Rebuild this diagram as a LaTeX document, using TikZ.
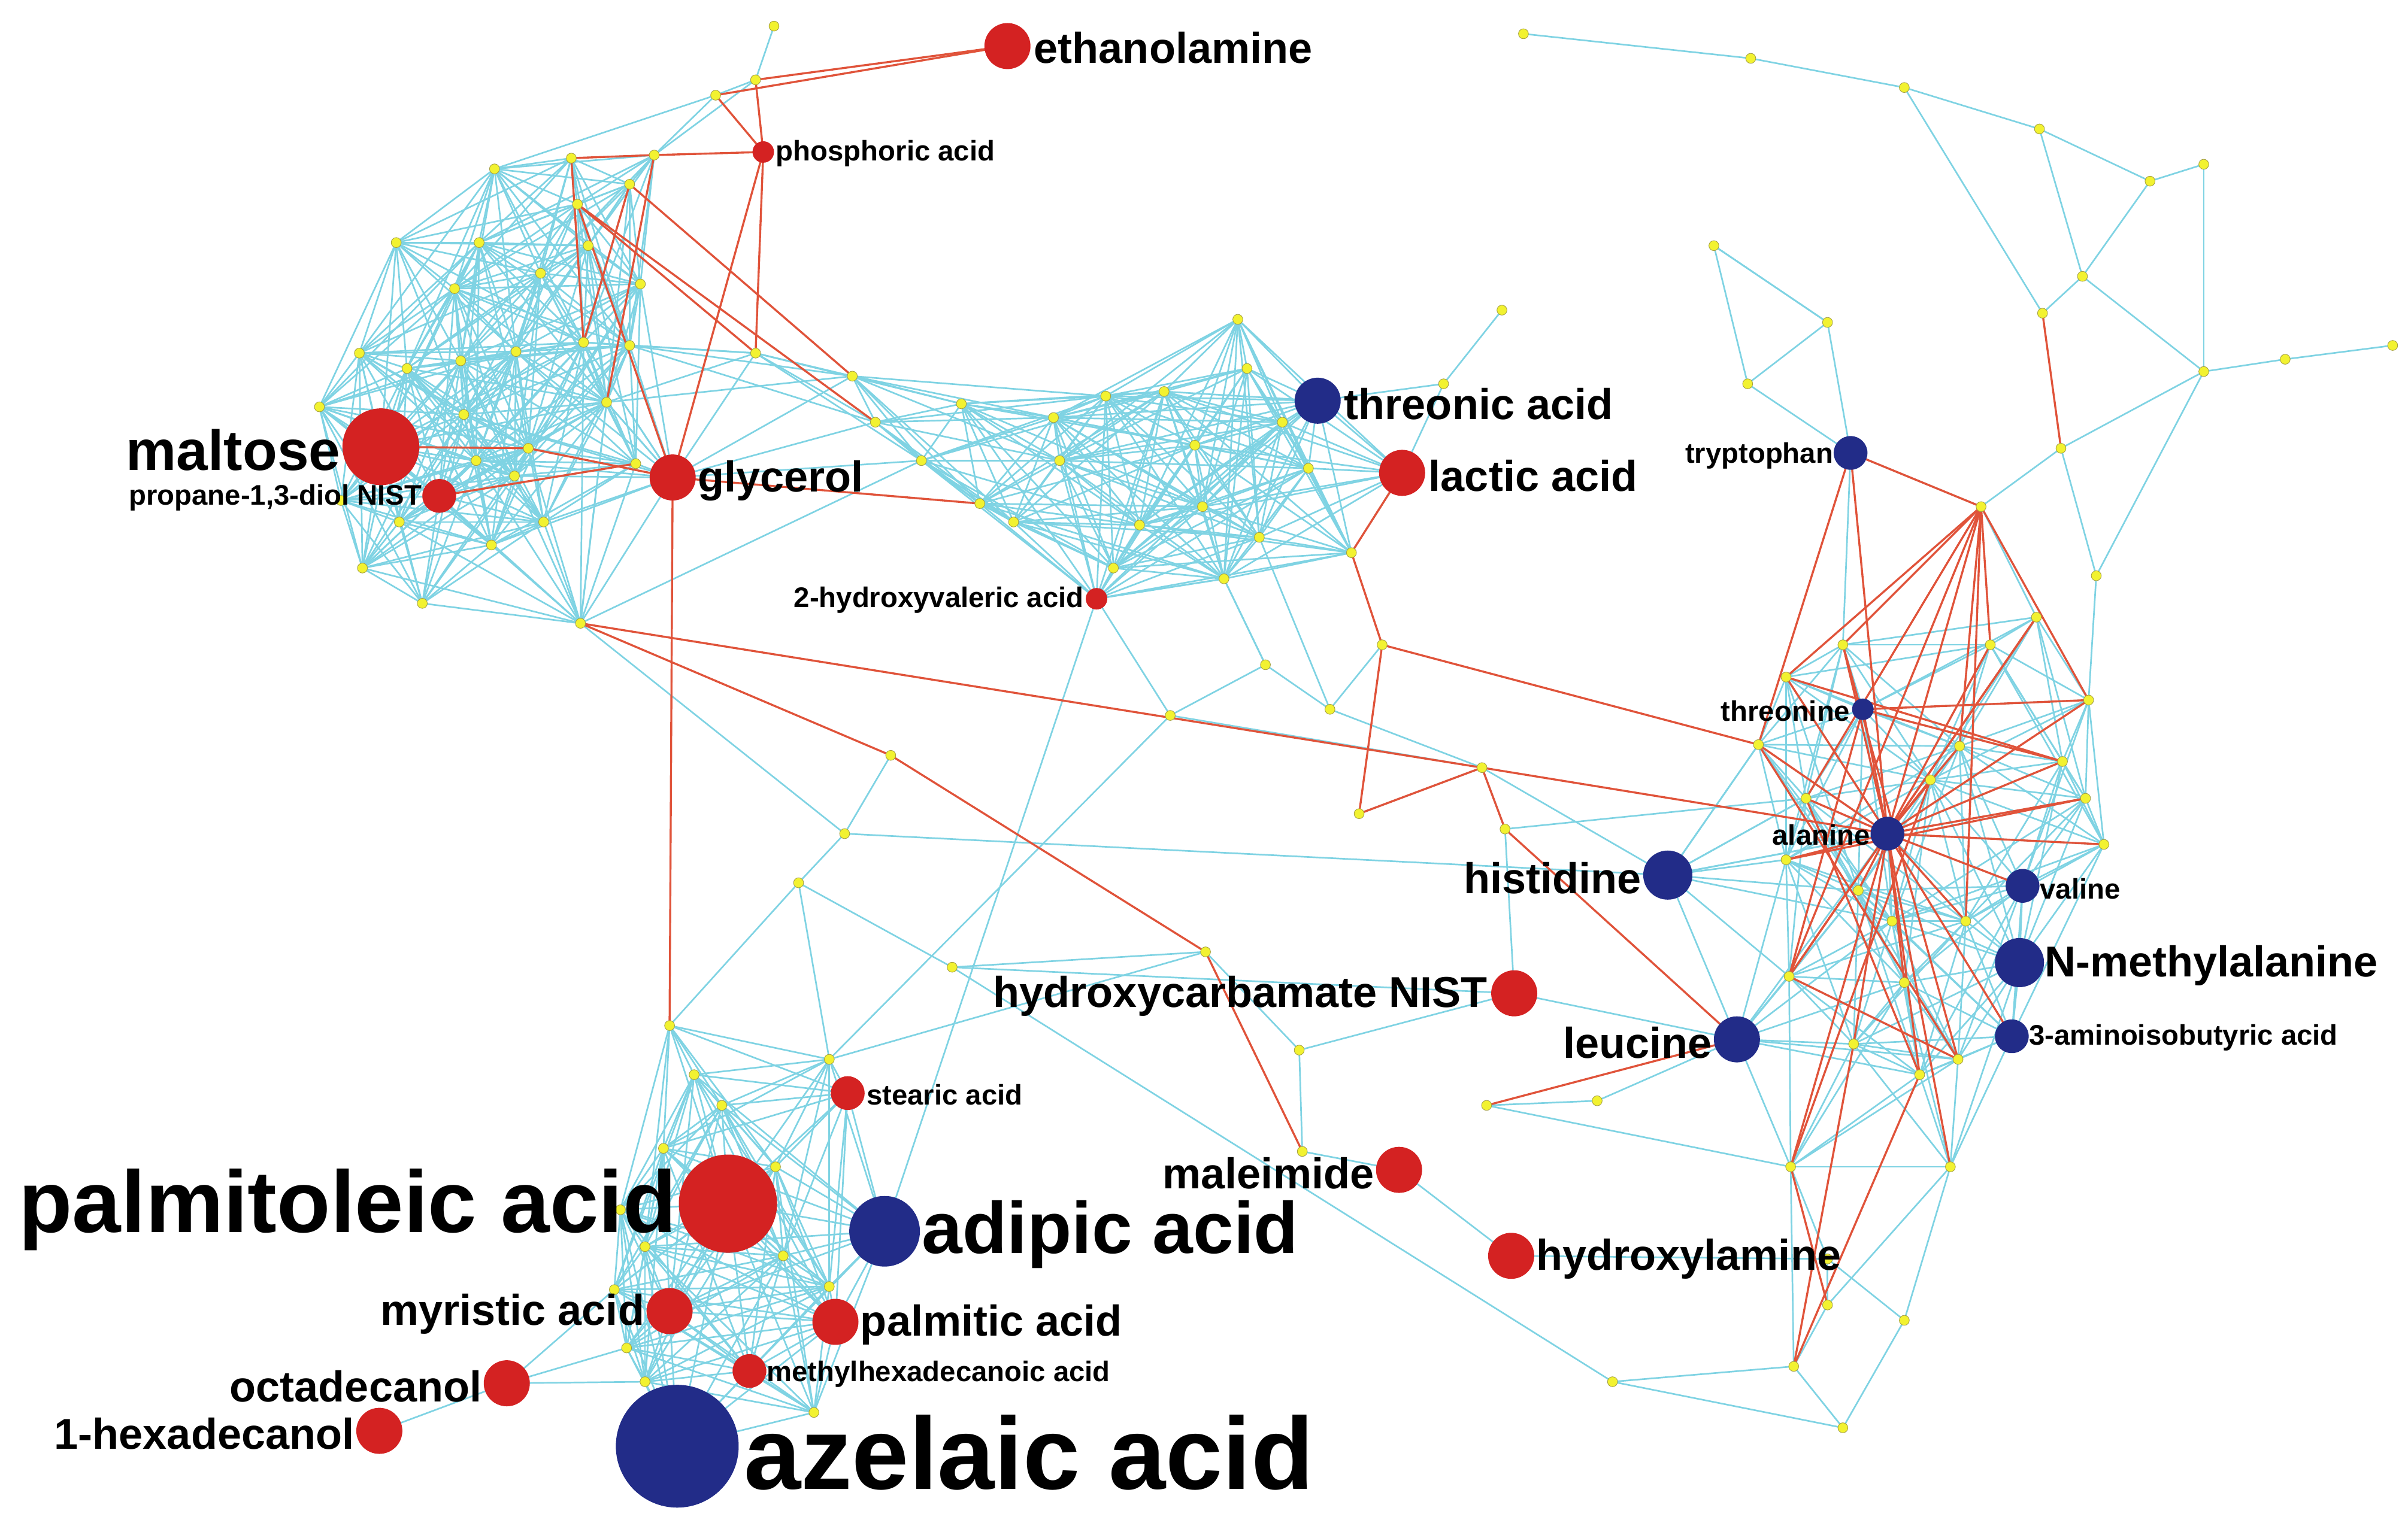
\documentclass[tikz,border=0pt]{standalone}
\usepackage{fontspec}
\setmainfont{Liberation Sans}
\definecolor{cyanE}{HTML}{7FD3E3}
\definecolor{redE}{HTML}{E0533A}
\definecolor{redN}{HTML}{D42222}
\definecolor{bluN}{HTML}{222C88}
\definecolor{yelN}{HTML}{F2F230}
\tikzset{
 cy/.style={cyanE,line width=0.6pt},
 rdl/.style={redE,line width=0.75pt},
 yd/.style={circle,fill=yelN,draw=yellow!60!black,line width=0.2pt,inner sep=0,minimum size=0.13cm},
 rd/.style={circle,fill=redN,inner sep=0,minimum size=#1},
 bd/.style={circle,fill=bluN,inner sep=0,minimum size=#1},
 lS/.style={font=\bfseries\fontsize{10.5}{12}\selectfont,inner sep=0},
 lM/.style={font=\bfseries\fontsize{16}{18}\selectfont,inner sep=0},
}
\def\ylist{u1/504/17,u2/492/52,u3/466/62,
a1/258/158,a2/312/158,a3/376/133,a4/410/120,a5/372/103,a6/322/110,a7/426/101,a8/383/160,a9/352/178,a10/417/185,a11/296/188,a12/234/230,a13/265/240,a14/300/235,a15/336/229,a16/380/223,a17/410/225,a18/208/265,a19/302/270,a20/344/292,a21/395/262,a22/414/302,a23/310/300,a24/222/326,a25/260/340,a26/275/393,a27/236/370,a28/320/355,a29/354/340,a30/378/406,a31/335/310,
b1/492/230,b2/555/245,b3/570/275,b4/626/263,b5/638/328,b6/686/272,b7/690/300,b8/720/258,b9/758/255,b10/778/290,b11/806/208,b12/812/240,b13/835/275,b14/783/330,b15/797/377,b16/742/342,b17/820/350,b18/852/305,b19/880/360,b20/725/370,b21/600/300,b22/660/340,
c1/436/668,c2/452/700,c3/540/690,c4/432/748,c5/404/788,c6/420/812,c7/408/878,c8/420/900,c9/530/920,c10/540/838,c11/510/818,c12/470/720,c13/505/760,c14/400/840,
d1/1163/441,d2/1145/485,d3/1176/520,d4/1163/560,d5/1210/580,d6/1232/600,d7/1257/508,d8/1276/486,d9/1343/496,d10/1358/520,d11/1370/550,d12/1165/636,d13/1207/680,d14/1250/700,d15/1275/690,d16/1166/760,d17/1270/760,d18/1296/420,d19/1326/402,d20/1360/456,d21/1240/640,d22/1280/600,d23/1200/420,
e1/1190/820,e2/1190/850,e3/1168/890,e4/1200/930,e5/1240/860,e6/1050/900,e7/1040/717,e8/968/720,
t1/992/22,t2/1140/38,t3/1240/57,t4/1328/84,t5/1400/118,t6/1435/107,t7/1356/180,t8/1330/204,t9/1435/242,t10/1488/234,t11/1558/225,t12/1342/292,t13/1190/210,t14/1116/160,t15/1138/250,t16/1290/330,t17/1365/375,t18/978/202,t19/940/250,
m1/824/433,m2/762/466,m3/866/462,m4/900/420,m5/965/500,m6/980/540,m7/885/530,m8/620/630,m9/550/543,m10/580/492,m11/520/575,m12/785/620,m13/846/684,m14/848/750}
\def\clist{eth/656/30,phos/497/99,mal/248/291,prop/286/323,gly/438/311,thr/858/261,lac/913/308,hyv/714/390,tryp/1205/295,thn/1213/462,ala/1229/543,his/1086/570,val/1317/577,nma/1315/627,aib/1310/675,leu/1131/677,hyc/986/647,ste/552/712,pal/474/784,adi/576/802,male/911/762,hyl/984/818,myr/436/854,plm/544/861,mhd/488/893,oct/330/901,hex/247/932,aze/441/942}
\newcommand\meshcluster[2]{%
 \foreach[count=\i] \a in {#1}{\foreach[count=\j] \b in {#1}{%
  \ifnum\i<\j
   \pgfmathparse{veclen(\csname X@\a\endcsname-\csname X@\b\endcsname,\csname Y@\a\endcsname-\csname Y@\b\endcsname)<#2}%
   \ifdim\pgfmathresult pt>0.5pt \draw[cy] (\a)--(\b);\fi
  \fi}}}
\begin{document}
\begin{tikzpicture}[x=0.02cm,y=-0.02cm]
\useasboundingbox (0,0) rectangle (1568,992);
\foreach \n/\x/\y in \ylist {\coordinate (\n) at (\x,\y); \expandafter\xdef\csname X@\n\endcsname{\x}\expandafter\xdef\csname Y@\n\endcsname{\y}}
\foreach \n/\x/\y in \clist {\coordinate (\n) at (\x,\y); \expandafter\xdef\csname X@\n\endcsname{\x}\expandafter\xdef\csname Y@\n\endcsname{\y}}
% dense clusters
\meshcluster{a1,a2,a3,a4,a5,a6,a7,a8,a9,a10,a11,a12,a13,a14,a15,a16,a17,a18,a19,a20,a21,a22,a23,a24,a25,a26,a27,a28,a29,a30,a31,mal,prop,gly}{150}
\meshcluster{gly,a17,a21,a16,b1,b2,b3,b4,b5,b6,b7,b8,b9,b10,b11,b12,b13,b14,b15,b16,b17,b18,b19,b20,b21,b22,thr,lac,hyv}{175}
\meshcluster{c1,c2,c3,c4,c5,c6,c7,c8,c9,c10,c11,c12,c13,c14,pal,adi,ste,myr,plm,mhd,aze}{165}
\meshcluster{d1,d2,d3,d4,d5,d6,d7,d8,d9,d10,d11,d12,d13,d14,d15,d16,d17,d18,d19,d20,d21,d22,d23,thn,ala,val,nma,aib,leu,his}{150}
% sparse cyan edges
\foreach \p/\q in {u1/u2,u2/u3,u3/a7,u2/a7,a6/u3,t18/t19,t19/thr,t19/lac,hyv/adi,hyv/b15,m10/m9,m9/m11,m11/c3,a30/m9,m9/his,m11/m8,m8/hyc,m12/m13,m13/m14,m13/hyc,m14/male,m2/m1,m1/m3,m3/m4,m2/m5,m5/his,m7/m5,hyv/m2,b15/m1,b17/m3,m5/m6,m6/d3,m2/c3,c3/m12,male/hyl,hyl/e1,e8/e7,e7/leu,e8/d16,e6/e3,m8/e6,e6/e4,e4/e3,e3/e2,e2/e1,e1/e5,e5/d17,e1/d16,e3/d16,e4/e5,e2/d17,
 t1/t2,t2/t3,t3/t4,t4/t5,t5/t6,t5/t7,t6/t9,t7/t9,t7/t8,t9/t10,t10/t11,t12/t17,t4/t7,t3/t8,t13/t14,t14/t15,t13/t15,t13/tryp,t15/tryp,t16/tryp,t17/d20,t16/d19,t9/t17,tryp/d23,t12/t16,t9/t12,t14/t13,
 his/d3,his/d2,his/ala,leu/ala,hyc/m6,hyc/leu,m3/m5,m1/b15,c1/m11,b21/a30,a30/a21,a30/a16,m12/m8,hex/oct,oct/c7,oct/c8,oct/c14}{\draw[cy] (\p)--(\q);}
% red edges
\foreach \p/\q in {eth/u2,eth/u3,u2/phos,u3/phos,phos/a7,phos/b1,phos/gly,a7/a5,a7/a21,a5/a16,a4/b2,a3/b1,gly/c1,gly/b5,gly/a20,prop/a22,mal/a20,gly/a3,a4/a16,a3/b3,
 a30/m10,m10/m12,m12/m14,a30/m5,lac/b19,b19/m4,m4/m7,m7/m5,m4/d2,m5/ala,m5/m6,m6/leu,leu/e8,e3/d13,e3/d14,e2/d16,t8/t12,tryp/t16,tryp/ala,tryp/d2,
 t16/d1,t16/d3,t16/d8,t16/d20,t16/ala,t16/d12,t16/d22,t16/d18,t16/d23,
 ala/d1,ala/d2,ala/d3,ala/d4,ala/d5,ala/d7,ala/d8,ala/d9,ala/d10,ala/d11,ala/d12,ala/d13,ala/d14,ala/d16,ala/d17,ala/d18,ala/d19,ala/d20,ala/d21,ala/d22,ala/d23,ala/thn,ala/val,ala/aib,
 thn/d9,thn/d20,thn/d12,d1/d9,d23/d15,d2/d15,d3/d14,d4/d10,d12/d19,d16/d7,d12/d15}{\draw[rdl] (\p)--(\q);}
% yellow nodes
\foreach \n/\x/\y in \ylist {\node[yd] (\n-n) at (\n) {};}
% coloured nodes
\node[rd=0.6cm] (eth-n) at (eth) {};
\node[rd=0.28cm] (phos-n) at (phos) {};
\node[rd=1cm] (mal-n) at (mal) {};
\node[rd=0.44cm] (prop-n) at (prop) {};
\node[rd=0.6cm] (gly-n) at (gly) {};
\node[bd=0.6cm] (thr-n) at (thr) {};
\node[rd=0.6cm] (lac-n) at (lac) {};
\node[rd=0.28cm] (hyv-n) at (hyv) {};
\node[bd=0.44cm] (tryp-n) at (tryp) {};
\node[bd=0.28cm] (thn-n) at (thn) {};
\node[bd=0.44cm] (ala-n) at (ala) {};
\node[bd=0.64cm] (his-n) at (his) {};
\node[bd=0.44cm] (val-n) at (val) {};
\node[bd=0.64cm] (nma-n) at (nma) {};
\node[bd=0.44cm] (aib-n) at (aib) {};
\node[bd=0.6cm] (leu-n) at (leu) {};
\node[rd=0.6cm] (hyc-n) at (hyc) {};
\node[rd=0.44cm] (ste-n) at (ste) {};
\node[rd=1.28cm] (pal-n) at (pal) {};
\node[bd=0.92cm] (adi-n) at (adi) {};
\node[rd=0.6cm] (male-n) at (male) {};
\node[rd=0.6cm] (hyl-n) at (hyl) {};
\node[rd=0.6cm] (myr-n) at (myr) {};
\node[rd=0.6cm] (plm-n) at (plm) {};
\node[rd=0.44cm] (mhd-n) at (mhd) {};
\node[rd=0.6cm] (oct-n) at (oct) {};
\node[rd=0.6cm] (hex-n) at (hex) {};
\node[bd=1.6cm] (aze-n) at (aze) {};
% labels
\node[lM,anchor=west] (l-eth) at (673,31) {ethanolamine};
\node[lS,anchor=west] (l-phos) at (505,100) {phosphoric acid};
\node[font=\bfseries\fontsize{21}{24}\selectfont,inner sep=0,anchor=east] (l-mal) at (222,293) {maltose};
\node[lS,anchor=east] (l-prop) at (275,324) {propane-1,3-diol NIST};
\node[lM,anchor=west] (l-gly) at (454,313) {glycerol};
\node[lM,anchor=west] (l-thr) at (875,263) {threonic acid};
\node[lM,anchor=west] (l-lac) at (930,310) {lactic acid};
\node[lS,anchor=east] (l-hyv) at (706,391) {2-hydroxyvaleric acid};
\node[lS,anchor=east] (l-tryp) at (1194,297) {tryptophan};
\node[lS,anchor=east] (l-thn) at (1205,463) {threonine};
\node[lS,anchor=east] (l-ala) at (1218,544) {alanine};
\node[lM,anchor=east] (l-his) at (1069,572) {histidine};
\node[lS,anchor=west] (l-val) at (1328,579) {valine};
\node[lM,anchor=west] (l-nma) at (1331,629) {N-methylalanine};
\node[lS,anchor=west] (l-aib) at (1321,676) {3-aminoisobutyric acid};
\node[lM,anchor=east] (l-leu) at (1115,679) {leucine};
\node[lM,anchor=east] (l-hyc) at (969,649) {hydroxycarbamate NIST};
\node[lS,anchor=west] (l-ste) at (564,713) {stearic acid};
\node[font=\bfseries\fontsize{32.5}{36}\selectfont,inner sep=0,anchor=east] (l-pal) at (441,788) {palmitoleic acid};
\node[font=\bfseries\fontsize{27}{30}\selectfont,inner sep=0,anchor=west] (l-adi) at (600,804) {adipic acid};
\node[lM,anchor=east] (l-male) at (895,764) {maleimide};
\node[lM,anchor=west] (l-hyl) at (1000,820) {hydroxylamine};
\node[lM,anchor=east] (l-myr) at (420,856) {myristic acid};
\node[lM,anchor=west] (l-plm) at (560,863) {palmitic acid};
\node[lS,anchor=west] (l-mhd) at (499,895) {methylhexadecanoic acid};
\node[lM,anchor=east] (l-oct) at (314,903) {octadecanol};
\node[lM,anchor=east] (l-hex) at (231,934) {1-hexadecanol};
\node[font=\bfseries\fontsize{38}{42}\selectfont,inner sep=0,anchor=west] (l-aze) at (484,946) {azelaic acid};
\end{tikzpicture}
\end{document}
